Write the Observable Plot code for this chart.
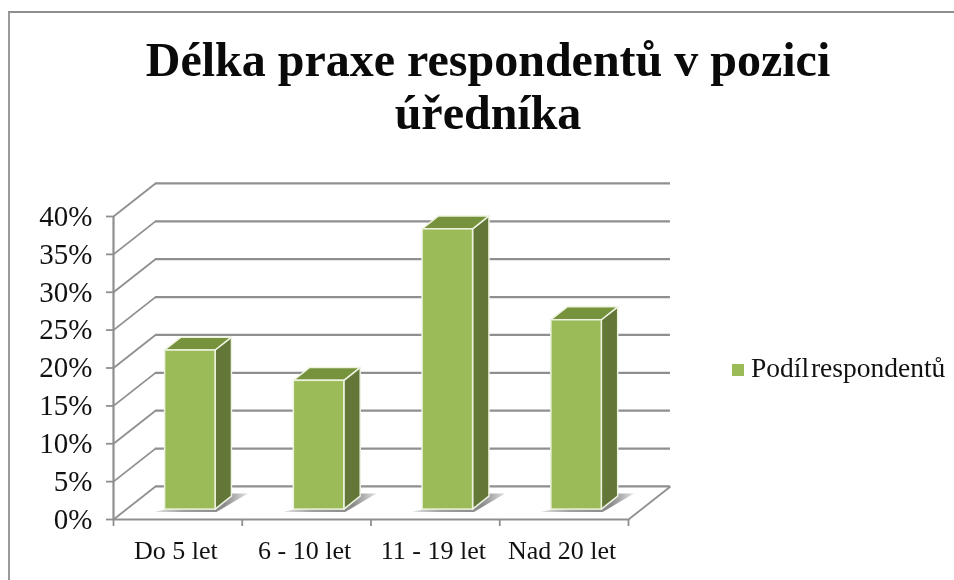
<!DOCTYPE html>
<html lang="cs">
<head>
<meta charset="utf-8">
<script src="https://cdn.jsdelivr.net/npm/d3@7"></script>
<script src="https://cdn.jsdelivr.net/npm/@observablehq/plot@0.6"></script>
<style>
  html,body{margin:0;padding:0;background:#fff;width:954px;height:580px;overflow:hidden;}
  #frame{position:absolute;left:8px;top:11px;right:0;bottom:0;border-left:2px solid #9a9a9a;border-top:2px solid #8f8f8f;box-sizing:border-box;}
  #title{position:absolute;left:0;top:0;width:976px;height:160px;margin:0;padding-top:33px;box-sizing:border-box;text-align:center;
    font:bold 48px/53px "Liberation Serif",serif;color:#0a0a0a;filter:blur(.5px);}
  #chart{position:absolute;left:0;top:160px;filter:blur(.6px);}
  #legend{position:absolute;left:732px;top:351px;font:27.5px/34px "Liberation Serif",serif;color:#111;white-space:nowrap;word-spacing:-5px;filter:blur(.5px);}
  #legend i{display:inline-block;width:12px;height:12px;background:#9bbb59;margin-right:7px;vertical-align:1px;}
</style>
</head>
<body>
<div id="frame"></div>
<h2 id="title">Délka praxe respondentů v pozici<br>úředníka</h2>
<div id="chart"></div>
<div id="legend"><i></i>Podíl respondentů</div>
<script>
const categories = ["Do 5 let", "6 - 10 let", "11 - 19 let", "Nad 20 let"];
const shares = [21, 17, 37, 25];
const yTicks = [0, 5, 10, 15, 20, 25, 30, 35, 40];
const xBoundaries = [0, 1, 2, 3, 4];
const seriesName = "Podíl respondentů";

// oblique projection: depth 0 = front plane of the axes, depth 1 = back wall (in data units)
const depthX = 0.326, depthY = 4.36;
const px = (x, d) => x + d * depthX;
const py = (y, d) => y + d * depthY;
const frontDepth = 0.30, backDepth = 0.69, barLeft = 0.303, barWidth = 0.392;

const bars = categories.map((c, i) => ({c, i, v: shares[i], x0: i + barLeft, x1: i + barLeft + barWidth}));

const grid = "#8f8f8f";
const edge = "#eef3e0";

const wallLines = yTicks.map(v => ({x1: px(0, 1), x2: px(4, 1), y: py(v, 1)}));
const sideLines = yTicks.map(v => ({x1: 0, y1: v, x2: px(0, 1), y2: py(v, 1)}));
const sideFaces = bars.flatMap(b => [frontDepth, backDepth].map(d =>
  ({i: b.i, x: px(b.x1, d), y1: py(0, d), y2: py(b.v, d)})));
const topFaces = bars.flatMap(b => [frontDepth, backDepth].map(d =>
  ({i: b.i, y: py(b.v, d), x1: px(b.x0, d), x2: px(b.x1, d)})));
const shadowNear = frontDepth - 0.09, shadowFar = backDepth + 0.08;
const shadows = bars.flatMap(b => [
  {i: b.i, y: py(0, shadowNear), x1: px(b.x0 - 0.05, shadowNear), x2: px(b.x1 + 0.04, shadowNear)},
  {i: b.i, y: py(0, shadowFar), x1: px(b.x1 - 0.02, shadowFar), x2: px(b.x1 + 0.1, shadowFar)}
]);

const defs = () => {
  const s = d3.create("svg:defs");
  const g = s.append("linearGradient").attr("id", "shadow").attr("x1", 0).attr("x2", 1).attr("y1", 0).attr("y2", 0);
  g.append("stop").attr("offset", "0%").attr("stop-color", "#e4e4e4");
  g.append("stop").attr("offset", "30%").attr("stop-color", "#a0a0a0");
  g.append("stop").attr("offset", "75%").attr("stop-color", "#8a8a8a");
  g.append("stop").attr("offset", "100%").attr("stop-color", "#e0e0e0");
  return s.node();
};

const chart = Plot.plot({
  width: 954, height: 420,
  marginLeft: 113, marginRight: 326, marginTop: 56, marginBottom: 61,
  style: {background: "transparent", overflow: "visible", fontFamily: "'Liberation Serif',serif"},
  x: {domain: [0, 4], axis: null},
  y: {domain: [0, 40], axis: null},
  marks: [
    defs,
    Plot.ruleY(wallLines, {x1: "x1", x2: "x2", y: "y", stroke: grid, strokeWidth: 2.2}),
    Plot.link(sideLines, {x1: "x1", y1: "y1", x2: "x2", y2: "y2", stroke: grid, strokeWidth: 1.8}),
    Plot.link([0], {x1: () => 4, y1: () => 0, x2: () => px(4, 1), y2: () => py(0, 1), stroke: grid, strokeWidth: 1.8}),
    Plot.ruleX([0], {y1: 0, y2: 40, stroke: grid, strokeWidth: 2.2}),
    Plot.ruleY([0], {x1: 0, x2: 4, stroke: grid, strokeWidth: 2.2}),
    Plot.areaX(shadows, {z: "i", y: "y", x1: "x1", x2: "x2", fill: "url(#shadow)", curve: "linear"}),
    Plot.areaY(sideFaces, {z: "i", x: "x", y1: "y1", y2: "y2", fill: "#637739", stroke: edge, strokeWidth: 1.5}),
    Plot.areaX(topFaces, {z: "i", y: "y", x1: "x1", x2: "x2", fill: "#76923c", stroke: edge, strokeWidth: 1.5}),
    Plot.rect(bars, {
      x1: d => px(d.x0, frontDepth), x2: d => px(d.x1, frontDepth),
      y1: () => py(0, frontDepth), y2: d => py(d.v, frontDepth),
      fill: "#9bbb59", stroke: edge, strokeWidth: 1.5, inset: 0,
      title: d => `${d.c}: ${d.v}% (${seriesName})`
    }),
    Plot.axisY({ticks: yTicks, tickSize: 7, tickFormat: () => "", stroke: grid, strokeWidth: 1.8, label: null}),
    Plot.axisY({ticks: yTicks, tickSize: 0, tickPadding: 21, dy: 0, tickFormat: d => d + "%", fill: "#111", fontSize: 29, label: null}),
    Plot.axisX({ticks: xBoundaries, tickSize: 7, tickFormat: () => "", stroke: grid, strokeWidth: 1.8, label: null}),
    Plot.axisX({ticks: xBoundaries.slice(0, 4).map(d => d + 0.5), tickSize: 0, tickPadding: 21, dx: -2, tickFormat: d => categories[d - 0.5], fill: "#111", fontSize: 26, label: null})
  ]
});
document.getElementById("chart").appendChild(chart);
</script>
</body>
</html>
